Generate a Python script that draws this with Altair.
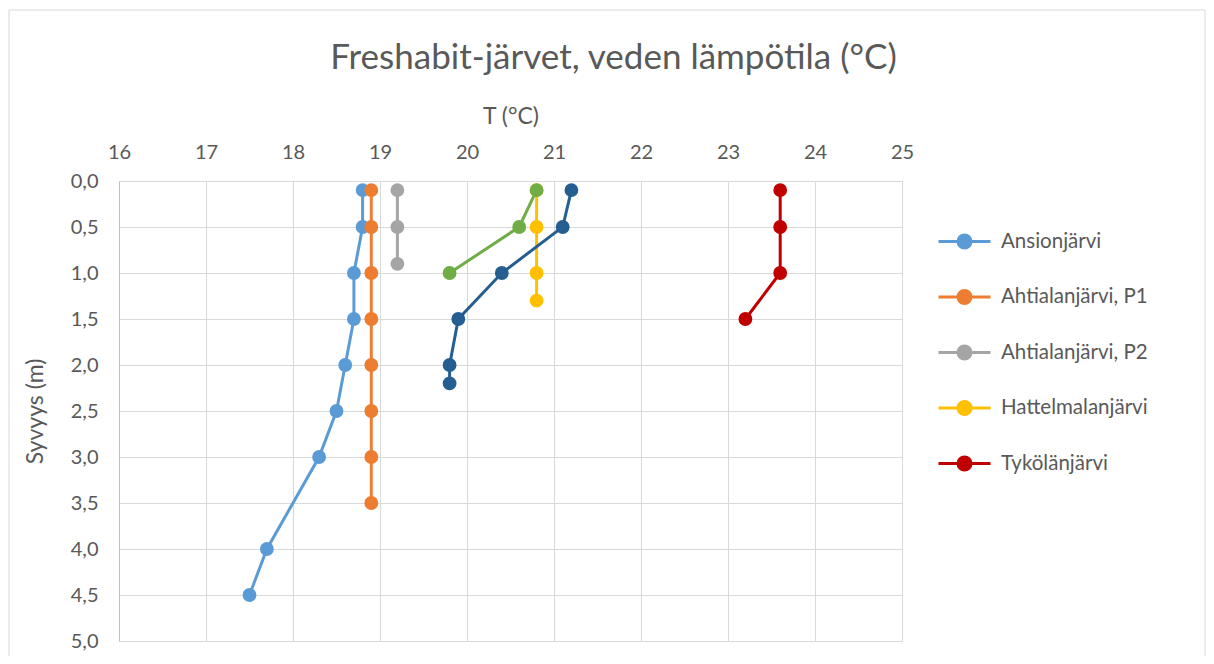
import altair as alt
import pandas as pd

series_names = ["Ansionjärvi", "Ahtialanjärvi, P1", "Ahtialanjärvi, P2",
                "Hattelmalanjärvi", "Tykölänjärvi", "Sarja 6", "Sarja 7"]
legend_names = series_names[:5]
colors = ["#5B9BD5", "#ED7D31", "#A5A5A5", "#FFC000", "#C00000", "#70AD47", "#255E91"]

ansion_depth = [0.1, 0.5, 1.0, 1.5, 2.0, 2.5, 3.0, 4.0, 4.5]
ansion_temp = [18.8, 18.8, 18.7, 18.7, 18.6, 18.5, 18.3, 17.7, 17.5]

ahtiala1_depth = [0.1, 0.5, 1.0, 1.5, 2.0, 2.5, 3.0, 3.5]
ahtiala1_temp = [18.9, 18.9, 18.9, 18.9, 18.9, 18.9, 18.9, 18.9]

ahtiala2_depth = [0.1, 0.5, 0.9]
ahtiala2_temp = [19.2, 19.2, 19.2]

hattelmala_depth = [0.1, 0.5, 1.0, 1.3]
hattelmala_temp = [20.8, 20.8, 20.8, 20.8]

tykola_depth = [0.1, 0.5, 1.0, 1.5]
tykola_temp = [23.6, 23.6, 23.6, 23.2]

s6_depth = [0.1, 0.5, 1.0]
s6_temp = [20.8, 20.6, 19.8]

s7_depth = [0.1, 0.5, 1.0, 1.5, 2.0, 2.2]
s7_temp = [21.2, 21.1, 20.4, 19.9, 19.8, 19.8]

x_ticks = list(range(16, 26))
y_ticks = [0.0, 0.5, 1.0, 1.5, 2.0, 2.5, 3.0, 3.5, 4.0, 4.5, 5.0]

all_depths = [ansion_depth, ahtiala1_depth, ahtiala2_depth, hattelmala_depth,
              tykola_depth, s6_depth, s7_depth]
all_temps = [ansion_temp, ahtiala1_temp, ahtiala2_temp, hattelmala_temp,
             tykola_temp, s6_temp, s7_temp]

rows = []
for i, (name, ds, ts) in enumerate(zip(series_names, all_depths, all_temps)):
    for j, (d, t) in enumerate(zip(ds, ts)):
        rows.append({"sarja": name, "syvyys": d, "lampotila": t, "jarj": i, "idx": j})
df = pd.DataFrame(rows)

FONT = "Lato"
TXT = "#595959"

color_scale = alt.Scale(domain=series_names, range=colors)
legend = alt.Legend(
    values=legend_names, title=None, orient="none", legendX=818, legendY=33,
    symbolType="M-1,0L1,0M-0.25,0a0.25,0.25 0 1,0 0.5,0a0.25,0.25 0 1,0 -0.5,0",
    symbolSize=2704, symbolStrokeWidth=3, labelFontSize=20.5, labelFont=FONT,
    labelColor=TXT, rowPadding=15.5, labelOffset=9, labelLimit=300,
)

x_enc = alt.X("lampotila:Q", scale=alt.Scale(domain=[16, 25], nice=False, zero=False),
              axis=alt.Axis(orient="top", title="T (°C)", values=x_ticks, format="d",
                            tickSize=0, labelPadding=19, titlePadding=14, labelFlush=False,
                            labelFontSize=20, titleFontSize=23, titleFontWeight="normal",
                            labelFont=FONT, titleFont=FONT, labelColor=TXT, titleColor=TXT,
                            gridColor="#D9D9D9", domainColor="#D9D9D9"))
y_enc = alt.Y("syvyys:Q", scale=alt.Scale(domain=[0, 5], reverse=True, nice=False),
              axis=alt.Axis(title="Syvyys (m)", values=y_ticks,
                            labelExpr="replace(format(datum.value, '.1f'), '.', ',')",
                            tickSize=0, labelPadding=21, titlePadding=23, labelFlush=False,
                            labelFontSize=20, titleFontSize=23, titleFontWeight="normal",
                            labelFont=FONT, titleFont=FONT, labelColor=TXT, titleColor=TXT,
                            gridColor="#D9D9D9", domainColor="#BFBFBF"))

base = alt.Chart(df)
lines = base.mark_line(strokeWidth=3).encode(
    x=x_enc, y=y_enc,
    color=alt.Color("sarja:N", scale=color_scale, legend=legend, sort=series_names),
    order=alt.Order("idx:Q"),
)
points = base.mark_point(filled=True, size=140, opacity=1).encode(
    x="lampotila:Q", y="syvyys:Q",
    color=alt.Color("sarja:N", scale=color_scale, legend=legend, sort=series_names),
    stroke=alt.Stroke("sarja:N", scale=color_scale, legend=legend, sort=series_names),
)

border = alt.Chart(pd.DataFrame({"a": [0]})).mark_rect(
    fill=None, stroke="#D9D9D9", strokeWidth=1
).encode(x=alt.value(-110), x2=alt.value(1086), y=alt.value(-171), y2=alt.value(700))

chart = alt.layer(border, lines, points).properties(
    width=783, height=460,
    title=alt.Title("Freshabit-järvet, veden lämpötila (°C)", fontSize=35, font=FONT,
                    color=TXT, fontWeight="normal", dx=103, offset=-66),
    autosize=alt.AutoSizeParams(type="none"),
    padding={"left": 111, "top": 173, "right": 304, "bottom": 15},
).configure_view(stroke=None)

chart.save("out.html", embed_options={"renderer": "svg", "actions": False})
